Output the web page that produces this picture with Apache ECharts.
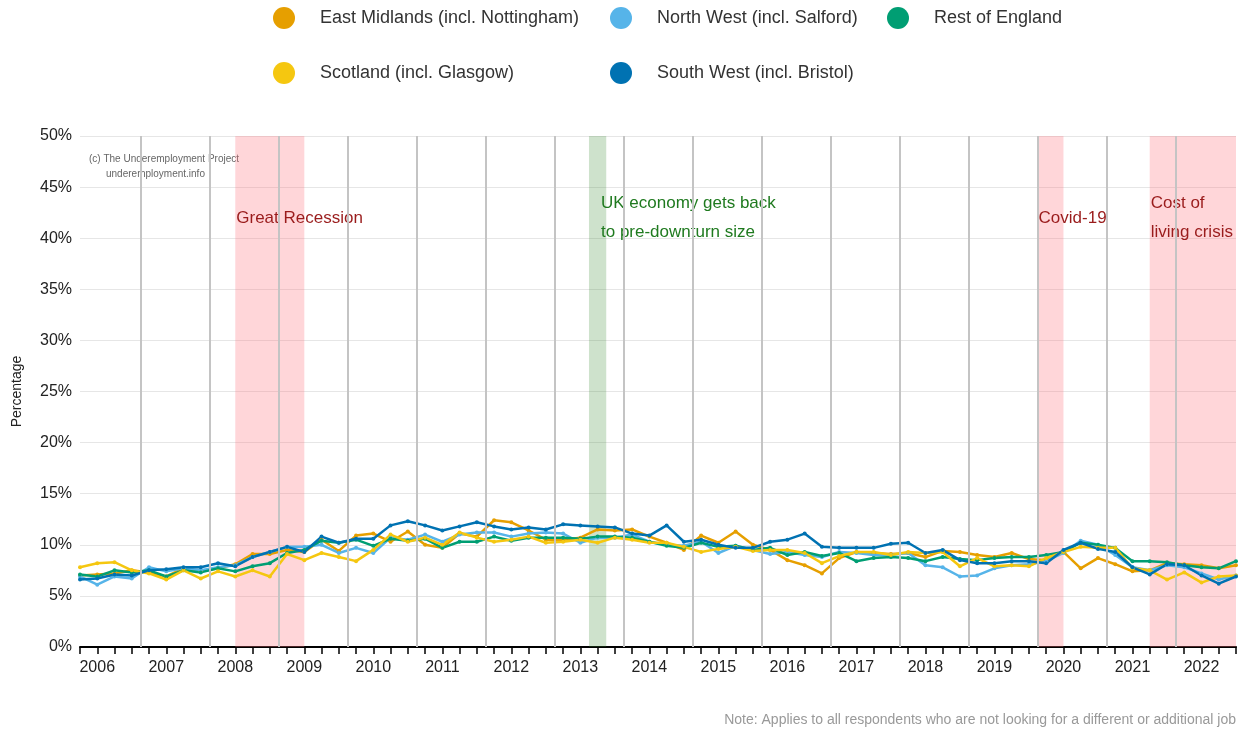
<!DOCTYPE html>
<html>
<head>
<meta charset="utf-8">
<title>Underemployment by region</title>
<script src="https://cdn.jsdelivr.net/npm/echarts@6/dist/echarts.min.js"></script>
<style>
  html, body { margin: 0; padding: 0; background: #fff; }
  #chart { width: 1247px; height: 732px; }
</style>
</head>
<body>
<div id="chart"></div>
<script>
// quarters from 2005 Q4 to 2022 Q3, the year label sits on each Q1
var years = ["2006", "2007", "2008", "2009", "2010", "2011", "2012", "2013", "2014",
  "2015", "2016", "2017", "2018", "2019", "2020", "2021", "2022"];

var eastMidlands = [7.0, 7.1, 7.2, 7.5, 7.3, 6.9, 7.7, 7.4, 7.7, 8.1, 9.1, 9.1, 9.5, 9.3, 10.5, 9.4,
  10.9, 11.1, 10.3, 11.3, 10.0, 9.7, 11.1, 10.8, 12.4, 12.2, 11.4, 10.5, 10.5, 10.7, 11.5, 11.4,
  11.5, 10.8, 10.2, 9.5, 10.9, 10.2, 11.3, 10.0, 9.5, 8.5, 8.0, 7.2, 8.7, 9.3, 9.2, 9.1,
  9.2, 8.8, 9.4, 9.3, 9.0, 8.8, 9.2, 8.6, 8.5, 9.3, 7.7, 8.7, 8.1, 7.4, 7.5, 8.2, 8.1, 8.0, 7.7, 8.0];
var northWest = [6.9, 6.1, 6.9, 6.7, 7.8, 7.4, 7.7, 7.5, 7.8, 8.0, 8.8, 9.3, 9.8, 9.8, 10.0, 9.2,
  9.7, 9.2, 10.7, 10.5, 11.0, 10.3, 11.0, 11.2, 11.2, 10.8, 11.1, 11.2, 11.1, 10.2, 10.7, 10.7,
  11.0, 10.3, 10.0, 9.9, 10.3, 9.2, 9.9, 9.5, 9.1, 9.3, 9.0, 8.8, 9.3, 9.2, 9.0, 9.0,
  9.2, 8.0, 7.8, 6.9, 7.0, 7.7, 8.0, 8.1, 8.4, 9.2, 10.4, 10.0, 9.0, 7.8, 7.5, 8.0, 7.8, 7.2, 6.6, 7.0];
var restOfEngland = [7.1, 6.9, 7.5, 7.3, 7.5, 6.9, 7.5, 7.3, 7.7, 7.4, 7.9, 8.2, 9.2, 9.5, 10.4, 10.2,
  10.5, 9.9, 10.6, 10.4, 10.6, 9.7, 10.3, 10.3, 10.8, 10.4, 10.7, 10.7, 10.7, 10.6, 10.8, 10.8,
  10.7, 10.3, 9.9, 9.7, 10.2, 9.8, 9.9, 9.5, 9.7, 9.0, 9.3, 8.9, 9.2, 8.4, 8.7, 8.8,
  8.7, 8.4, 8.8, 8.6, 8.5, 8.7, 8.8, 8.8, 9.0, 9.3, 10.2, 10.0, 9.7, 8.4, 8.4, 8.3, 8.0, 7.8, 7.7, 8.4];
var scotland = [7.8, 8.2, 8.3, 7.5, 7.2, 6.6, 7.5, 6.7, 7.4, 6.9, 7.5, 6.9, 9.1, 8.5, 9.2, 8.8,
  8.4, 9.5, 11.0, 10.3, 10.7, 10.0, 11.2, 10.7, 10.3, 10.5, 10.8, 10.2, 10.3, 10.5, 10.2, 10.7,
  10.5, 10.2, 10.2, 9.8, 9.3, 9.6, 9.8, 9.4, 9.5, 9.5, 9.2, 8.2, 8.9, 9.3, 9.3, 9.0,
  9.3, 9.2, 9.3, 7.9, 8.7, 7.9, 8.0, 7.9, 8.7, 9.3, 9.8, 9.7, 9.7, 7.7, 7.5, 6.6, 7.3, 6.3, 6.9, 7.0];
var southWest = [6.6, 6.7, 7.1, 7.0, 7.5, 7.6, 7.8, 7.8, 8.2, 7.9, 8.8, 9.3, 9.8, 9.3, 10.8, 10.2,
  10.6, 10.6, 11.9, 12.3, 11.9, 11.4, 11.8, 12.2, 11.8, 11.5, 11.7, 11.5, 12.0, 11.9, 11.8, 11.7,
  11.1, 10.9, 11.9, 10.3, 10.5, 10.0, 9.7, 9.7, 10.3, 10.5, 11.1, 9.8, 9.7, 9.7, 9.7, 10.1,
  10.2, 9.2, 9.5, 8.5, 8.2, 8.2, 8.4, 8.4, 8.2, 9.5, 10.2, 9.6, 9.3, 7.8, 7.1, 8.1, 8.0, 7.0, 6.2, 6.9];

var seriesNames = ["East Midlands (incl. Nottingham)", "North West (incl. Salford)",
  "Rest of England", "Scotland (incl. Glasgow)", "South West (incl. Bristol)"];
var seriesData = [eastMidlands, northWest, restOfEngland, scotland, southWest];
var colors = ["#E69F00", "#56B4E9", "#009E73", "#F5C710", "#0072B2"];

// shaded periods, in quarter index
var periods = [
  { name: "Great Recession", from: 9, to: 13 },
  { name: "UK economy gets back\nto pre-downturn size", from: 29.5, to: 30.5 },
  { name: "Covid-19", from: 55.5, to: 57 },
  { name: "Cost of\nliving crisis", from: 62, to: 67 }
];

var chart = echarts.init(document.getElementById("chart"));

// grey vertical lines, one each year
var yearLines = [];
for (var k = 3.5; k < 67; k += 4) {
  yearLines.push({ xAxis: k });
}

var font = "'Liberation Sans', Arial, sans-serif";

// one legend per item so that the columns line up
var legendPos = [[268, 2], [605, 2], [882, 2], [268, 57], [605, 57]];
var legends = seriesNames.map(function (n, i) {
  return {
    data: [n],
    left: legendPos[i][0],
    top: legendPos[i][1],
    icon: "circle",
    itemWidth: 22,
    itemHeight: 22,
    selectedMode: false,
    textStyle: { fontSize: 18, color: "#333", fontFamily: font, padding: [0, 0, 0, 20] }
  };
});

var series = seriesNames.map(function (n, i) {
  return {
    name: n,
    type: "line",
    data: seriesData[i].map(function (v, j) { return [j, v]; }),
    color: colors[i],
    symbol: "circle",
    symbolSize: 4,
    lineStyle: { width: 2.5 },
    z: 3
  };
});

// bands and year lines hang off the first series
series[0].markArea = {
  silent: true,
  z: 1,
  data: periods.map(function (p, i) {
    var green = i === 1;
    return [
      {
        name: p.name,
        xAxis: p.from,
        itemStyle: { color: green ? "rgba(60,140,50,0.25)" : "rgba(255,120,130,0.3)" },
        label: {
          show: true,
          position: [green ? 12 : 1, 82],
          align: "left",
          verticalAlign: "middle",
          fontSize: 17,
          lineHeight: 29,
          fontFamily: font,
          color: green ? "#1f7a1f" : "#9a1c1c"
        }
      },
      { xAxis: p.to }
    ];
  })
};
series[0].markLine = {
  silent: true,
  symbol: "none",
  label: { show: false },
  lineStyle: { color: "#c4c4c4", width: 2, type: "solid" },
  data: yearLines
};

chart.setOption({
  animation: false,
  legend: legends,
  grid: { left: 80, right: 11, top: 136, bottom: 85 },
  xAxis: {
    type: "value",
    min: 0,
    max: 67,
    interval: 1,
    splitLine: { show: false },
    axisLine: { lineStyle: { color: "#000", width: 2 } },
    axisTick: { length: 7, lineStyle: { color: "#000", width: 1.5 } },
    axisLabel: {
      fontSize: 16,
      color: "#222",
      fontFamily: font,
      margin: 13,
      formatter: function (v) {
        return (v - 1) % 4 === 0 ? years[(v - 1) / 4] : "";
      }
    }
  },
  yAxis: {
    type: "value",
    min: 0,
    max: 50,
    interval: 5,
    name: "Percentage",
    nameLocation: "middle",
    nameGap: 56,
    nameTextStyle: { fontSize: 14, color: "#222", fontFamily: font },
    axisLine: { show: false },
    axisTick: { show: false },
    axisLabel: { formatter: "{value}%", fontSize: 16, color: "#222", fontFamily: font, margin: 8 },
    splitLine: { lineStyle: { color: "#e6e6e6", width: 1 } }
  },
  graphic: [
    { type: "text", left: 89, top: 154, style: { text: "(c) The Underemployment Project", fontSize: 10, fill: "#666", fontFamily: font } },
    { type: "text", left: 106, top: 169, style: { text: "underemployment.info", fontSize: 10, fill: "#666", fontFamily: font } },
    { type: "text", right: 11, top: 713, style: { text: "Note: Applies to all respondents who are not looking for a different or additional job", fontSize: 14, fill: "#999", fontFamily: font } }
  ],
  series: series
});

// 自适应
window.onresize = function () { chart.resize(); };
</script>
</body>
</html>
